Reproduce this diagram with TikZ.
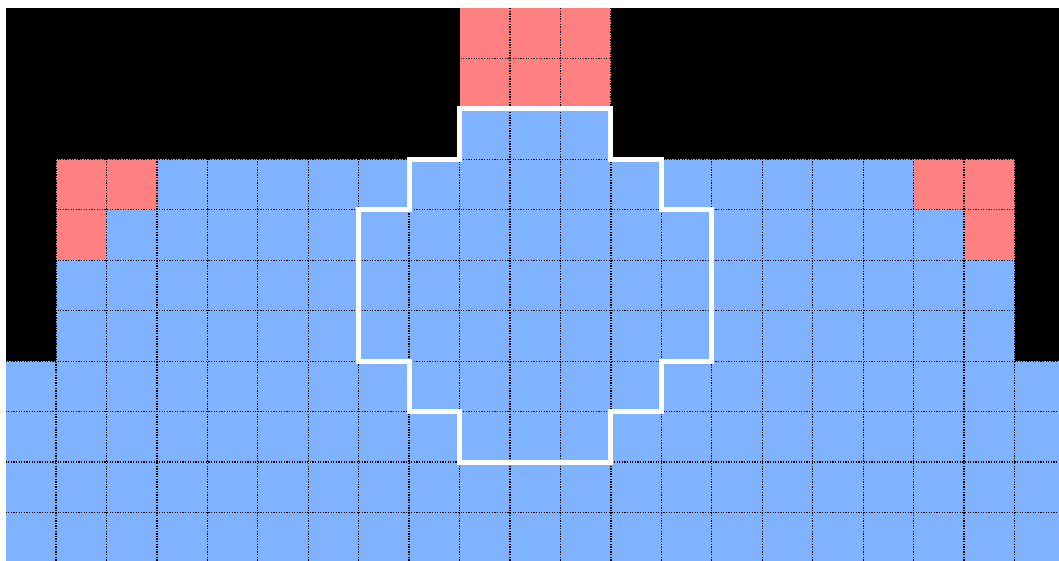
\documentclass[tikz,border=0pt]{standalone}
\definecolor{cellblue}{RGB}{128,179,255}
\definecolor{cellpink}{RGB}{255,128,128}
\tikzset{
  gridline/.style={draw=black, line width=1.3pt, dash pattern=on 1.3pt off 1.3pt},
  outline/.style={draw=white, line width=5pt, line join=miter},
}
\begin{document}
\begin{tikzpicture}[x=1pt,y=1pt]
\useasboundingbox (0,0) rectangle (1059,-560);
\fill[white] (0,0) rectangle (1059,-560);
\begin{scope}[shift={(5.5pt,-8pt)}, x=50.45pt, y=-50.45pt]
  \clip (0,0) rectangle (20.882,10.95);
  \fill[cellblue] (0,0) rectangle (21,11);
  % pink cells
  \fill[cellpink] (9,0) rectangle (12,2);
  \fill[cellpink] (1,3) rectangle (3,4);
  \fill[cellpink] (1,4) rectangle (2,5);
  \fill[cellpink] (18,3) rectangle (20,4);
  \fill[cellpink] (19,4) rectangle (20,5);
  % grid
  \foreach \i in {1,...,20} \draw[gridline] (\i,0) -- (\i,11);
  \foreach \j in {1,...,10} \draw[gridline] (0,\j) -- (21,\j);
  % black cells
  \fill[black] (0,0) rectangle (9,3);
  \fill[black] (12,0) rectangle (21,3);
  \fill[black] (0,3) rectangle (1,7);
  \fill[black] (20,3) rectangle (21,7);
  % white outline
  \draw[outline] (9,2) -- (12,2) -- (12,3) -- (13,3) -- (13,4) -- (14,4) -- (14,7)
    -- (13,7) -- (13,8) -- (12,8) -- (12,9) -- (9,9) -- (9,8) -- (8,8) -- (8,7)
    -- (7,7) -- (7,4) -- (8,4) -- (8,3) -- (9,3) -- cycle;
\end{scope}
\end{tikzpicture}
\end{document}
